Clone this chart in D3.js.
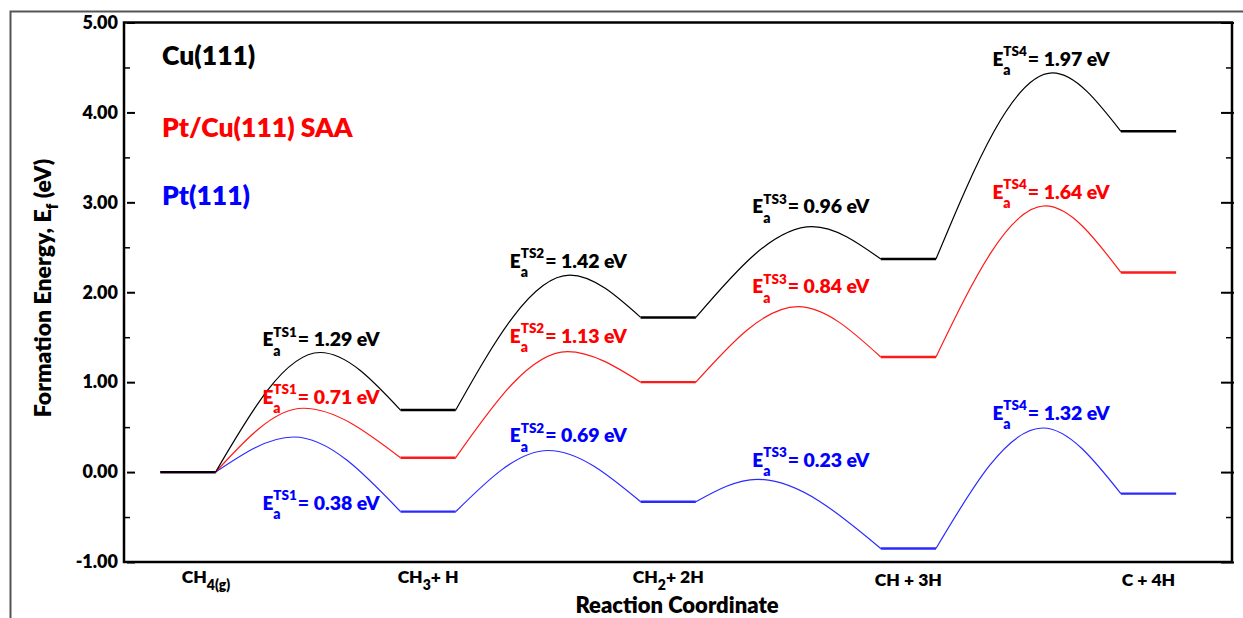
<!DOCTYPE html>
<html>
<head>
<meta charset="utf-8">
<script src="https://cdn.jsdelivr.net/npm/d3@7"></script>
<style>
  html, body { margin: 0; padding: 0; background: #fff; }
  svg text { font-family: Lato, "Open Sans", sans-serif; font-weight: 800; }
</style>
</head>
<body>
<svg id="chart" width="1243" height="618"></svg>
<script>
// Reaction intermediates along the coordinate (index = reaction coordinate)
const states = ["CH_{4(g)}", "CH_{3}+ H", "CH_{2}+ 2H", "CH + 3H", "C + 4H"];

// Formation energies of the intermediates (eV)
const cuStates  = [0.00, 0.69, 1.72, 2.37, 3.79];
const saaStates = [0.00, 0.16, 1.00, 1.28, 2.22];
const ptStates  = [0.00, -0.44, -0.33, -0.85, -0.24];

// Transition-state energies (eV) and their place on the reaction coordinate
const cuTS  = [1.33, 2.19, 2.73, 4.44];
const saaTS = [0.71, 1.34, 1.84, 2.96];
const ptTS  = [0.39, 0.24, -0.08, 0.49];
const cuTSAt  = [0.55, 1.59, 2.60, 3.60];
const saaTSAt = [0.48, 1.58, 2.54, 3.57];
const ptTSAt  = [0.44, 1.50, 2.37, 3.56];

// Activation barriers (eV)
const cuEa  = [1.29, 1.42, 0.96, 1.97];
const saaEa = [0.71, 1.13, 0.84, 1.64];
const ptEa  = [0.38, 0.69, 0.23, 1.32];

const surfaces = ["Cu(111)", "Pt/Cu(111) SAA", "Pt(111)"];
const yTicks = [-1, 0, 1, 2, 3, 4, 5];
const yMinorTicks = [-0.5, 0.5, 1.5, 2.5, 3.5, 4.5];

// ---- layout ----
const svg = d3.select("#chart");
const W = 1243, H = 618;
const plot = { left: 124, right: 1232, top: 22.5, bottom: 562 };

const x = d3.scaleLinear().domain([0, 4]).range([188, 1148.5]);
const y = d3.scaleLinear().domain([-1, 5]).range([plot.bottom, plot.top]);
const halfWidth = 0.115; // half-length of each intermediate's level

const series = [
  { name: surfaces[2], color: "#0000ff", line: "#2a2aff", states: ptStates,  ts: ptTS,  at: ptTSAt,  ea: ptEa,
    labelE: [-0.42, 0.33, 0.06, 0.58] },
  { name: surfaces[1], color: "#ff0000", line: "#ff1a1a", states: saaStates, ts: saaTS, at: saaTSAt, ea: saaEa,
    labelE: [0.76, 1.44, 1.99, 3.04] },
  { name: surfaces[0], color: "#000000", line: "#000000", states: cuStates,  ts: cuTS,  at: cuTSAt,  ea: cuEa,
    labelE: [1.40, 2.27, 2.88, 4.52] }
];
const labelRC = [0.31, 1.34, 2.35, 3.35];

// outer figure border
svg.append("rect")
  .attr("x", 10.5).attr("y", 11.5).attr("width", W + 20).attr("height", H + 20)
  .attr("fill", "none").attr("stroke", "#555").attr("stroke-width", 2);

// ---- axes ----
const tickFmt = d => d3.format(".2f")(d).replace("\u2212", "-");
const gLeft = svg.append("g").attr("transform", `translate(${plot.left},0)`);
gLeft.call(d3.axisLeft(y).tickValues(yTicks).tickSize(-11).tickPadding(6).tickFormat(tickFmt));
gLeft.select(".domain").remove();
gLeft.selectAll(".tick line").attr("x1", 3).attr("stroke-width", 2);
gLeft.selectAll(".tick text").attr("font-size", 18).attr("fill", "#000")
  .attr("font-family", "Lato, sans-serif").attr("font-weight", 800);

const gLeftMinor = svg.append("g").attr("transform", `translate(${plot.left},0)`);
gLeftMinor.call(d3.axisLeft(y).tickValues(yMinorTicks).tickSize(-6).tickFormat(""));
gLeftMinor.select(".domain").remove();
gLeftMinor.selectAll(".tick line").attr("stroke-width", 1.5);

const gRight = svg.append("g").attr("transform", `translate(${plot.right},0)`);
gRight.call(d3.axisRight(y).tickValues(yTicks).tickSize(-11).tickFormat(""));
gRight.select(".domain").remove();
gRight.selectAll(".tick line").attr("x1", 2).attr("stroke-width", 2);

const gRightMinor = svg.append("g").attr("transform", `translate(${plot.right},0)`);
gRightMinor.call(d3.axisRight(y).tickValues(yMinorTicks).tickSize(-6).tickFormat(""));
gRightMinor.select(".domain").remove();
gRightMinor.selectAll(".tick line").attr("stroke-width", 1.5);

// plot frame
svg.append("rect")
  .attr("x", plot.left).attr("y", plot.top)
  .attr("width", plot.right - plot.left).attr("height", plot.bottom - plot.top)
  .attr("fill", "none").attr("stroke", "#000").attr("stroke-width", 2.5);

// ---- helper: text with _{sub} markup ----
function richText(sel, str, subSize, subShift) {
  const parts = str.split(/(_\{[^}]*\})/).filter(s => s.length);
  let shifted = false;
  parts.forEach(p => {
    if (p.startsWith("_{")) {
      sel.append("tspan").attr("font-size", subSize).attr("dy", subShift).text(p.slice(2, -1));
      shifted = true;
    } else {
      const t = sel.append("tspan").text(p);
      if (shifted) { t.attr("dy", -subShift); shifted = false; }
    }
  });
}

// ---- energy profiles ----
const level = d3.line().x(d => x(d[0])).y(d => y(d[1]));
const barrier = d3.line().x(d => x(d[0])).y(d => y(d[1])).curve(d3.curveMonotoneX);

const gProfiles = svg.append("g");
series.forEach(s => {
  const g = gProfiles.append("g");
  // barriers between consecutive intermediates
  s.ts.forEach((e, i) => {
    g.append("path")
      .attr("d", barrier([[i + halfWidth, s.states[i]], [s.at[i], e], [i + 1 - halfWidth, s.states[i + 1]]]))
      .attr("fill", "none").attr("stroke", s.line).attr("stroke-width", 1.2);
  });
  // intermediate levels
  s.states.forEach((e, i) => {
    g.append("path")
      .attr("d", level([[i - halfWidth, e], [i + halfWidth, e]]))
      .attr("fill", "none").attr("stroke", s.line).attr("stroke-width", 2.4);
  });
});

// ---- barrier annotations ----
const gLabels = svg.append("g");
series.forEach(s => {
  s.ea.forEach((ea, i) => {
    const g = gLabels.append("g")
      .attr("transform", `translate(${x(labelRC[i])},${y(s.labelE[i])})`)
      .attr("fill", s.color);
    const tE = g.append("text").attr("font-size", 19).text("E");
    const wE = tE.node().getComputedTextLength();
    g.append("text").attr("x", wE).attr("y", 9.5).attr("font-size", 14).text("a");
    const tS = g.append("text").attr("x", wE).attr("y", -9.5).attr("font-size", 13.5).text("TS" + (i + 1));
    const wS = tS.node().getComputedTextLength();
    g.append("text").attr("x", wE + wS + 1).attr("font-size", 19.5).text(`= ${ea.toFixed(2)} eV`);
  });
});

// ---- legend ----
const legendBase = [64.5, 136.5, 205];
series.slice().reverse().forEach((s, i) => {
  svg.append("text").attr("x", 162).attr("y", legendBase[i])
    .attr("font-size", 26.5).attr("fill", s.color).text(s.name);
});

// ---- reaction coordinate labels ----
const stateShift = [18, 0, 0, 0, 0];
states.forEach((st, i) => {
  const t = svg.append("text")
    .attr("x", x(i) + stateShift[i])
    .attr("y", st.includes("_{") ? 583 : 586)
    .attr("text-anchor", "middle").attr("font-size", 17.5).attr("fill", "#000");
  richText(t, st, 14, 7);
});

svg.append("text").attr("x", 677).attr("y", 613)
  .attr("text-anchor", "middle").attr("font-size", 22).text("Reaction Coordinate");

const yTitle = svg.append("text")
  .attr("transform", `translate(51,288) rotate(-90)`)
  .attr("text-anchor", "middle").attr("font-size", 23);
yTitle.append("tspan").text("Formation Energy, E");
yTitle.append("tspan").attr("font-size", 16).attr("dy", 7).text("f");
yTitle.append("tspan").attr("dy", -7).text(" (eV)");
</script>
</body>
</html>
